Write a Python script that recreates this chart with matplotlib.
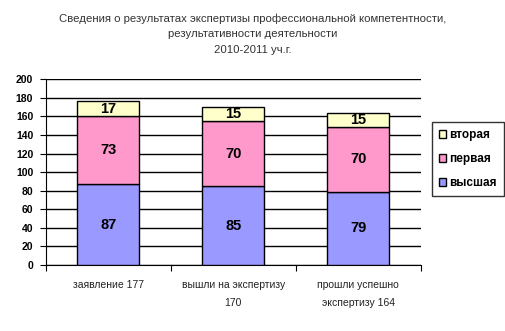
import matplotlib.pyplot as plt
import numpy as np

plt.rcParams['font.family'] = ['Liberation Sans', 'DejaVu Sans']

categories = ['заявление 177', 'вышли на экспертизу\n170', 'прошли успешно\nэкспертизу 164']
vysshaya = [87, 85, 79]
pervaya = [73, 70, 70]
vtoraya = [17, 15, 15]
yticks = [0, 20, 40, 60, 80, 100, 120, 140, 160, 180, 200]

title = ('Сведения о результатах экспертизы профессиональной компетентности,\n'
         'результативности деятельности\n'
         '2010-2011 уч.г.')

fig = plt.figure(figsize=(5.05, 3.31), dpi=100)
ax = fig.add_axes([0.0905, 0.1994, 0.7425, 0.561])

x = np.arange(len(categories))
w = 0.5
kw = dict(width=w, edgecolor='black', linewidth=1, zorder=3)
b1 = ax.bar(x, vysshaya, color='#9999FF', label='высшая', **kw)
b2 = ax.bar(x, pervaya, bottom=vysshaya, color='#FF99CC', label='первая', **kw)
bottom3 = np.array(vysshaya) + np.array(pervaya)
b3 = ax.bar(x, vtoraya, bottom=bottom3, color='#FFFFCC', label='вторая', **kw)

for vals, bot in [(vysshaya, [0, 0, 0]), (pervaya, vysshaya), (vtoraya, bottom3)]:
    for i, v in enumerate(vals):
        ax.text(x[i], bot[i] + v / 2, str(v), ha='center', va='center',
                fontsize=10.5, fontweight='bold', zorder=4)

ax.set_xlim(-0.5, 2.5)
ax.set_ylim(0, 200)
ax.set_yticks(yticks)
ax.set_yticklabels([str(t) for t in yticks], fontsize=7.5, fontweight='bold')
ax.yaxis.grid(True, color='black', linewidth=1, zorder=0)
ax.set_axisbelow(True)

ax.set_xticks([-0.5, 0.5, 1.5, 2.5])
ax.set_xticklabels([])
ax.set_xticks(x, minor=True)
ax.set_xticklabels(categories, minor=True, fontsize=7.5, color='#222222')
ax.tick_params(axis='x', which='minor', length=0, pad=11)
ax.tick_params(axis='x', which='major', length=4, direction='out')
ax.tick_params(axis='y', length=4, direction='out', pad=5)
for lbl in ax.get_xticklabels(minor=True):
    lbl.set_linespacing(2.0)
    lbl.set_verticalalignment('top')

ax.spines['right'].set_visible(False)
ax.spines['top'].set_visible(False)

handles = [b3, b2, b1]
leg = ax.legend(handles, ['вторая', 'первая', 'высшая'], loc='center left',
                bbox_to_anchor=(1.03, 0.57), borderaxespad=0, frameon=True,
                fancybox=False, prop={'size': 8.5, 'weight': 'bold'},
                handlelength=0.6, handleheight=0.6, handletextpad=0.3,
                labelspacing=1.0, borderpad=0.6, edgecolor='black')
leg.get_frame().set_linewidth(1)

fig.text(0.5, 0.96, title, ha='center', va='top', fontsize=8.2,
         color='#333333', linespacing=1.7)

fig.savefig('out.png', dpi=100)
